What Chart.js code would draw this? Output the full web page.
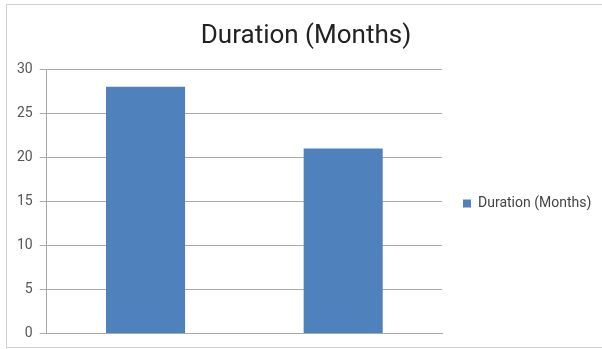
<!DOCTYPE html>
<html>
<head>
<meta charset="utf-8">
<script src="https://cdn.jsdelivr.net/npm/chart.js@4/dist/chart.umd.min.js"></script>
<style>
  html, body { margin: 0; padding: 0; background: #fff; }
  #frame { position: absolute; left: 6px; top: 4px; width: 620px; height: 342px; border: 1px solid #d0d0d0; }
  #wrap { position: absolute; left: 0; top: 0; width: 602px; height: 349px; }
</style>
</head>
<body>
<div id="frame"></div>
<div id="wrap"><canvas id="myChart"></canvas></div>
<script>
var categories = ['1', '2'];
var durationMonths = [28, 21];
var seriesName = 'Duration (Months)';
var yTicks = [0, 5, 10, 15, 20, 25, 30];

var rightPad = 16;

// title centred over the whole frame; legend allowed to use the right padding
var frameFix = {
    id: 'frameFix',
    afterLayout: function (chart) {
        chart.titleBlock.right += rightPad;
        chart.legend.right += rightPad;
        chart.legend.width += rightPad;
        chart.legend.top += 40;
        chart.legend.height -= 40;
    }
};

function drawChart() {
    var ctx = document.getElementById('myChart').getContext('2d');
    var myChart = new Chart(ctx, {
        type: 'bar',
        data: {
            labels: categories,
            datasets: [{
                label: seriesName,
                data: durationMonths,
                backgroundColor: '#4f81bd',
                borderWidth: 0,
                categoryPercentage: 1,
                barPercentage: 0.4
            }]
        },
        options: {
            responsive: true,
            maintainAspectRatio: false,
            animation: false,
            layout: { padding: { left: 10, right: rightPad, top: 21, bottom: 3 } },
            plugins: {
                title: {
                    display: true,
                    text: 'Duration (Months)',
                    color: '#222',
                    font: { family: 'Roboto', size: 26, weight: 'normal' },
                    padding: { top: 0, bottom: 17 }
                },
                legend: {
                    position: 'right',
                    labels: {
                        color: '#444',
                        font: { family: 'Roboto', size: 14 },
                        boxWidth: 8,
                        boxHeight: 8,
                        padding: 21
                    }
                },
                tooltip: { enabled: false }
            },
            scales: {
                x: {
                    ticks: { display: false },
                    grid: { display: false, drawTicks: false },
                    border: { display: true, color: '#a8a8a8', width: 1 }
                },
                y: {
                    min: 0,
                    max: 30,
                    afterBuildTicks: function (axis) {
                        axis.ticks = yTicks.map(function (v) { return { value: v }; });
                    },
                    ticks: {
                        color: '#555',
                        font: { family: 'Roboto', size: 14 },
                        padding: 7
                    },
                    grid: { color: '#a8a8a8', tickLength: 7, lineWidth: 1 },
                    border: { display: true, color: '#a8a8a8', width: 1 }
                }
            }
        },
        plugins: [frameFix]
    });
}

document.addEventListener('DOMContentLoaded', function () {
    Promise.all([
        document.fonts.load('26px Roboto'),
        document.fonts.load('14px Roboto')
    ]).then(drawChart, drawChart);
});
</script>
</body>
</html>
